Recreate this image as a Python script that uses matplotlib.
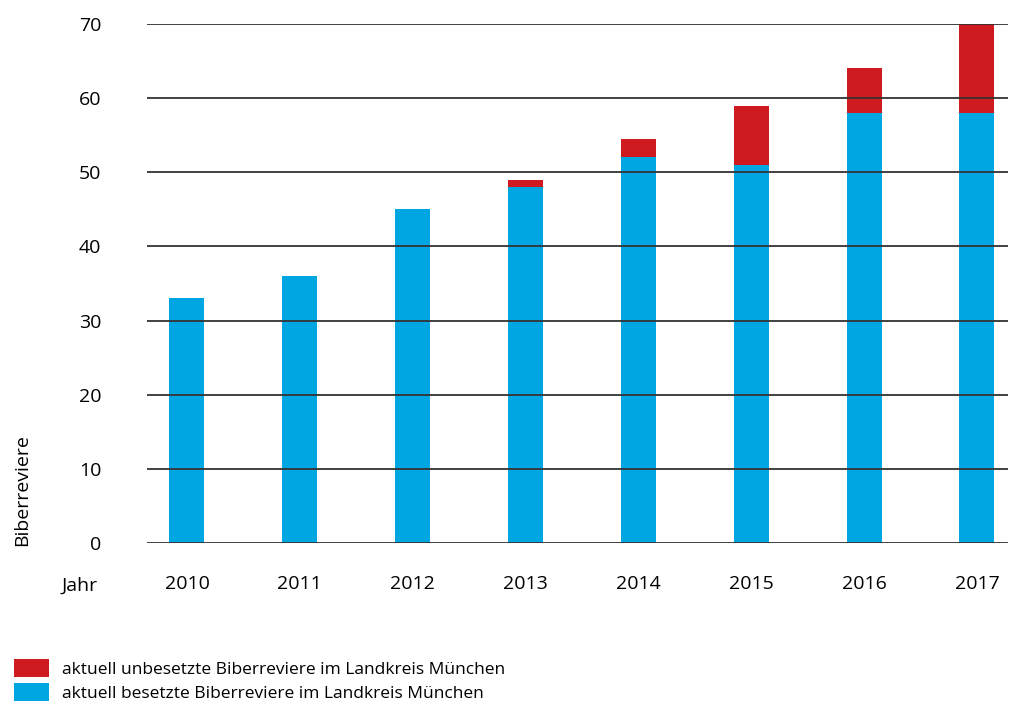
import matplotlib.pyplot as plt
import numpy as np

plt.rcParams['font.family'] = ['Open Sans', 'DejaVu Sans']

years = ['2010', '2011', '2012', '2013', '2014', '2015', '2016', '2017']
besetzt = [33, 36, 45, 48, 52, 51, 58, 58]
gesamt = [33, 36, 45, 49, 54.5, 59, 64, 70]
unbesetzt = [g - b for g, b in zip(gesamt, besetzt)]

blue = '#00a6e2'
red = '#cf1a1f'

fig = plt.figure(figsize=(10.11, 7.04), dpi=100)
ax = fig.add_axes([0.1454, 0.2287, 0.8516, 0.7372])

x = np.arange(len(years))
width = 0.31
b1 = ax.bar(x, besetzt, width, color=blue, zorder=1,
            label='aktuell besetzte Biberreviere im Landkreis München')
b2 = ax.bar(x, unbesetzt, width, bottom=besetzt, color=red, zorder=1,
            label='aktuell unbesetzte Biberreviere im Landkreis München')

ax.set_ylim(0, 70)
ax.set_xlim(-0.354, 7.275)
ax.set_yticks(range(0, 71, 10))
ax.set_xticks(x, labels=years)
for y in range(0, 71, 10):
    ax.axhline(y, color='#333333', lw=1.3, zorder=3)
for s in ax.spines.values():
    s.set_visible(False)
ax.tick_params(axis='y', length=0, pad=33, labelsize=14)
ax.tick_params(axis='x', length=0, pad=23, labelsize=14)

fig.text(0.079, 0.168, 'Jahr', ha='center', va='center', fontsize=14)
fig.text(0.022, 0.304, 'Biberreviere', ha='center', va='center', rotation=90, fontsize=14)

fig.legend(handles=[b2, b1], loc='upper left', bbox_to_anchor=(0.009, 0.071),
           frameon=False, fontsize=12.5, handlelength=2.0, handleheight=1.2,
           handletextpad=0.75, labelspacing=0.3, borderaxespad=0, borderpad=0.3)

fig.savefig('out.png', dpi=100)
